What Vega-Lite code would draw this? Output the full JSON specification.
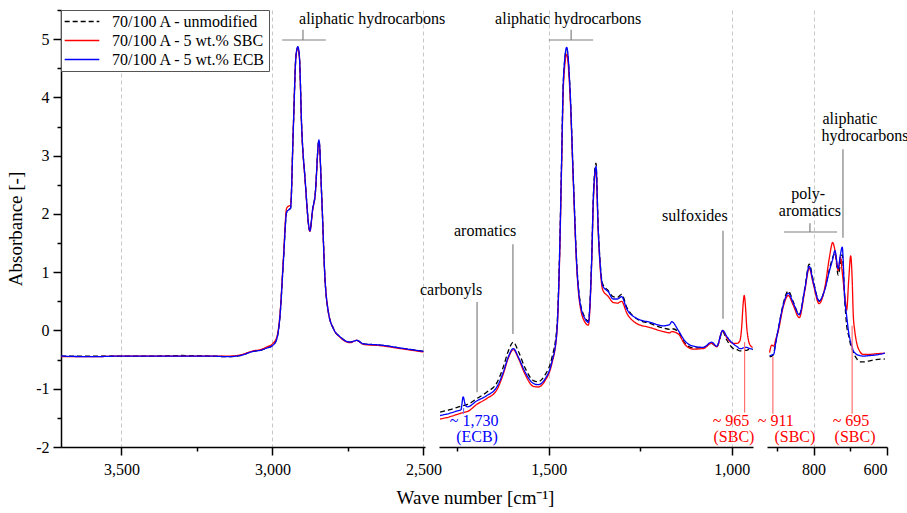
{
"$schema": "https://vega.github.io/schema/vega-lite/v6.json",
"padding": {"left": 6, "top": 9, "right": 0, "bottom": 0},
"spacing": 14,
"bounds": "flush",
"config": {
  "font": "Liberation Serif",
  "view": {"stroke": null},
  "axis": {"labelFont": "Liberation Serif", "labelFontSize": 16, "labelColor": "#000000", "titleFont": "Liberation Serif", "titleFontSize": 19, "titleFontWeight": "normal", "titleColor": "#000000", "domainColor": "#000000", "domainWidth": 1.5, "tickColor": "#000000", "tickWidth": 1.5, "gridColor": "#c8c8c8", "gridDash": [4, 3], "gridWidth": 1},
  "legend": {"orient": "top-left", "offset": 0, "title": null, "symbolType": "stroke", "symbolSize": 1200, "symbolStrokeWidth": 1.3, "labelFontSize": 16, "labelFont": "Liberation Serif", "strokeColor": "#555555", "fillColor": "#ffffff", "padding": 3, "rowPadding": 2, "clipHeight": 17, "labelOffset": 12, "cornerRadius": 0},
  "text": {"font": "Liberation Serif", "fontSize": 16}
},
"resolve": {"scale": {"x": "independent", "y": "independent", "color": "shared", "strokeDash": "shared", "stroke": "shared", "fill": "shared"}},
"datasets": {
  "spec": [
    {"p":1,"x":3700,"u":-0.44,"s":-0.45,"e":-0.44},
    {"p":1,"x":3600,"u":-0.44,"s":-0.45,"e":-0.45},
    {"p":1,"x":3500,"u":-0.44,"s":-0.44,"e":-0.44},
    {"p":1,"x":3400,"u":-0.44,"s":-0.44,"e":-0.44},
    {"p":1,"x":3300,"u":-0.43,"s":-0.44,"e":-0.44},
    {"p":1,"x":3200,"u":-0.44,"s":-0.44,"e":-0.44},
    {"p":1,"x":3150,"u":-0.45,"s":-0.44,"e":-0.45},
    {"p":1,"x":3107,"u":-0.43,"s":-0.42,"e":-0.43},
    {"p":1,"x":3064,"u":-0.36,"s":-0.35,"e":-0.36},
    {"p":1,"x":3040,"u":-0.34,"s":-0.33,"e":-0.34},
    {"p":1,"x":3018,"u":-0.30,"s":-0.28,"e":-0.30},
    {"p":1,"x":3000,"u":-0.26,"s":-0.23,"e":-0.26},
    {"p":1,"x":2986,"u":-0.15,"s":-0.12,"e":-0.15},
    {"p":1,"x":2975,"u":0.25,"s":0.28,"e":0.25},
    {"p":1,"x":2964,"u":1.17,"s":1.22,"e":1.17},
    {"p":1,"x":2953,"u":2.03,"s":2.10,"e":2.03},
    {"p":1,"x":2944,"u":2.08,"s":2.14,"e":2.08},
    {"p":1,"x":2940,"u":2.10,"s":2.15,"e":2.10},
    {"p":1,"x":2931,"u":3.46,"s":3.46,"e":3.46},
    {"p":1,"x":2922,"u":4.72,"s":4.72,"e":4.72},
    {"p":1,"x":2916,"u":4.86,"s":4.84,"e":4.87},
    {"p":1,"x":2911,"u":4.72,"s":4.70,"e":4.72},
    {"p":1,"x":2903,"u":3.46,"s":3.44,"e":3.46},
    {"p":1,"x":2892,"u":2.60,"s":2.58,"e":2.60},
    {"p":1,"x":2876,"u":1.71,"s":1.70,"e":1.71},
    {"p":1,"x":2867,"u":2.08,"s":2.06,"e":2.08},
    {"p":1,"x":2859,"u":2.31,"s":2.30,"e":2.31},
    {"p":1,"x":2846,"u":3.26,"s":3.24,"e":3.27},
    {"p":1,"x":2837,"u":2.31,"s":2.30,"e":2.31},
    {"p":1,"x":2826,"u":0.88,"s":0.88,"e":0.88},
    {"p":1,"x":2815,"u":0.32,"s":0.32,"e":0.32},
    {"p":1,"x":2798,"u":0.03,"s":0.03,"e":0.03},
    {"p":1,"x":2776,"u":-0.11,"s":-0.12,"e":-0.11},
    {"p":1,"x":2743,"u":-0.20,"s":-0.21,"e":-0.20},
    {"p":1,"x":2721,"u":-0.17,"s":-0.17,"e":-0.17},
    {"p":1,"x":2699,"u":-0.23,"s":-0.24,"e":-0.23},
    {"p":1,"x":2644,"u":-0.25,"s":-0.26,"e":-0.25},
    {"p":1,"x":2578,"u":-0.30,"s":-0.31,"e":-0.30},
    {"p":1,"x":2500,"u":-0.36,"s":-0.37,"e":-0.36},
    {"p":2,"x":1797,"u":-1.40,"s":-1.52,"e":-1.46},
    {"p":2,"x":1770,"u":-1.36,"s":-1.48,"e":-1.42},
    {"p":2,"x":1750,"u":-1.32,"s":-1.44,"e":-1.38},
    {"p":2,"x":1740,"u":-1.30,"s":-1.42,"e":-1.36},
    {"p":2,"x":1734,"u":-1.29,"s":-1.41,"e":-1.14},
    {"p":2,"x":1728,"u":-1.28,"s":-1.40,"e":-1.28},
    {"p":2,"x":1722,"u":-1.27,"s":-1.39,"e":-1.31},
    {"p":2,"x":1697,"u":-1.17,"s":-1.27,"e":-1.21},
    {"p":2,"x":1670,"u":-1.06,"s":-1.17,"e":-1.12},
    {"p":2,"x":1642,"u":-0.90,"s":-1.02,"e":-0.97},
    {"p":2,"x":1624,"u":-0.62,"s":-0.74,"e":-0.71},
    {"p":2,"x":1611,"u":-0.36,"s":-0.48,"e":-0.46},
    {"p":2,"x":1597,"u":-0.20,"s":-0.33,"e":-0.31},
    {"p":2,"x":1583,"u":-0.36,"s":-0.48,"e":-0.46},
    {"p":2,"x":1565,"u":-0.64,"s":-0.75,"e":-0.71},
    {"p":2,"x":1542,"u":-0.86,"s":-0.96,"e":-0.91},
    {"p":2,"x":1529,"u":-0.88,"s":-0.97,"e":-0.93},
    {"p":2,"x":1510,"u":-0.76,"s":-0.86,"e":-0.83},
    {"p":2,"x":1492,"u":-0.48,"s":-0.58,"e":-0.55},
    {"p":2,"x":1478,"u":0.05,"s":-0.05,"e":-0.03},
    {"p":2,"x":1471,"u":1.20,"s":1.10,"e":1.17},
    {"p":2,"x":1465,"u":2.92,"s":2.80,"e":2.89},
    {"p":2,"x":1460,"u":4.30,"s":4.20,"e":4.32},
    {"p":2,"x":1451,"u":4.83,"s":4.74,"e":4.86},
    {"p":2,"x":1442,"u":4.14,"s":4.05,"e":4.14},
    {"p":2,"x":1433,"u":2.62,"s":2.55,"e":2.60},
    {"p":2,"x":1424,"u":1.20,"s":1.12,"e":1.17},
    {"p":2,"x":1415,"u":0.52,"s":0.44,"e":0.49},
    {"p":2,"x":1401,"u":0.22,"s":0.14,"e":0.20},
    {"p":2,"x":1392,"u":0.16,"s":0.09,"e":0.14},
    {"p":2,"x":1383,"u":1.20,"s":1.12,"e":1.17},
    {"p":2,"x":1378,"u":2.35,"s":2.25,"e":2.31},
    {"p":2,"x":1371,"u":2.87,"s":2.75,"e":2.81},
    {"p":2,"x":1365,"u":1.78,"s":1.70,"e":1.74},
    {"p":2,"x":1360,"u":1.20,"s":1.12,"e":1.17},
    {"p":2,"x":1353,"u":0.80,"s":0.70,"e":0.77},
    {"p":2,"x":1337,"u":0.68,"s":0.58,"e":0.66},
    {"p":2,"x":1324,"u":0.58,"s":0.48,"e":0.54},
    {"p":2,"x":1312,"u":0.57,"s":0.47,"e":0.54},
    {"p":2,"x":1301,"u":0.62,"s":0.50,"e":0.58},
    {"p":2,"x":1287,"u":0.40,"s":0.30,"e":0.37},
    {"p":2,"x":1260,"u":0.20,"s":0.12,"e":0.21},
    {"p":2,"x":1223,"u":0.12,"s":0.05,"e":0.14},
    {"p":2,"x":1187,"u":0.04,"s":-0.02,"e":0.08},
    {"p":2,"x":1170,"u":0.02,"s":-0.04,"e":0.10},
    {"p":2,"x":1164,"u":0.03,"s":-0.02,"e":0.15},
    {"p":2,"x":1146,"u":-0.02,"s":-0.06,"e":0.00},
    {"p":2,"x":1128,"u":-0.22,"s":-0.24,"e":-0.18},
    {"p":2,"x":1105,"u":-0.30,"s":-0.32,"e":-0.27},
    {"p":2,"x":1078,"u":-0.30,"s":-0.31,"e":-0.29},
    {"p":2,"x":1055,"u":-0.22,"s":-0.22,"e":-0.20},
    {"p":2,"x":1041,"u":-0.28,"s":-0.28,"e":-0.27},
    {"p":2,"x":1025,"u":-0.02,"s":0.00,"e":0.00},
    {"p":2,"x":1014,"u":-0.16,"s":-0.12,"e":-0.10},
    {"p":2,"x":996,"u":-0.31,"s":-0.22,"e":-0.23},
    {"p":2,"x":985,"u":-0.33,"s":-0.22,"e":-0.28},
    {"p":2,"x":978,"u":-0.35,"s":-0.18,"e":-0.31},
    {"p":2,"x":973,"u":-0.35,"s":0.05,"e":-0.31},
    {"p":2,"x":969,"u":-0.35,"s":0.45,"e":-0.30},
    {"p":2,"x":966,"u":-0.35,"s":0.60,"e":-0.30},
    {"p":2,"x":963,"u":-0.34,"s":0.45,"e":-0.29},
    {"p":2,"x":959,"u":-0.34,"s":0.05,"e":-0.29},
    {"p":2,"x":955,"u":-0.33,"s":-0.15,"e":-0.30},
    {"p":2,"x":950,"u":-0.32,"s":-0.25,"e":-0.31},
    {"p":2,"x":943,"u":-0.33,"s":-0.29,"e":-0.32},
    {"p":3,"x":920,"u":-0.45,"s":-0.38,"e":-0.43},
    {"p":3,"x":914,"u":-0.44,"s":-0.25,"e":-0.42},
    {"p":3,"x":909,"u":-0.40,"s":-0.27,"e":-0.41},
    {"p":3,"x":903,"u":-0.20,"s":-0.15,"e":-0.20},
    {"p":3,"x":896,"u":0.03,"s":0.00,"e":0.03},
    {"p":3,"x":883,"u":0.45,"s":0.40,"e":0.43},
    {"p":3,"x":869,"u":0.68,"s":0.60,"e":0.64},
    {"p":3,"x":856,"u":0.50,"s":0.44,"e":0.48},
    {"p":3,"x":839,"u":0.28,"s":0.22,"e":0.27},
    {"p":3,"x":824,"u":0.72,"s":0.68,"e":0.71},
    {"p":3,"x":812,"u":1.14,"s":1.07,"e":1.10},
    {"p":3,"x":801,"u":0.86,"s":0.80,"e":0.83},
    {"p":3,"x":785,"u":0.50,"s":0.46,"e":0.51},
    {"p":3,"x":769,"u":0.72,"s":0.75,"e":0.71},
    {"p":3,"x":757,"u":1.05,"s":1.25,"e":1.02},
    {"p":3,"x":748,"u":1.25,"s":1.51,"e":1.22},
    {"p":3,"x":742,"u":1.33,"s":1.38,"e":1.37},
    {"p":3,"x":733,"u":0.95,"s":1.03,"e":1.06},
    {"p":3,"x":727,"u":1.15,"s":1.26,"e":1.30},
    {"p":3,"x":722,"u":1.30,"s":1.00,"e":1.43},
    {"p":3,"x":715,"u":0.50,"s":0.60,"e":0.54},
    {"p":3,"x":710,"u":0.09,"s":0.35,"e":0.25},
    {"p":3,"x":704,"u":-0.10,"s":0.90,"e":-0.05},
    {"p":3,"x":699,"u":-0.25,"s":1.28,"e":-0.20},
    {"p":3,"x":695,"u":-0.32,"s":0.90,"e":-0.28},
    {"p":3,"x":692,"u":-0.37,"s":0.28,"e":-0.35},
    {"p":3,"x":688,"u":-0.43,"s":0.00,"e":-0.38},
    {"p":3,"x":683,"u":-0.48,"s":-0.20,"e":-0.41},
    {"p":3,"x":674,"u":-0.54,"s":-0.36,"e":-0.43},
    {"p":3,"x":665,"u":-0.54,"s":-0.41,"e":-0.44},
    {"p":3,"x":647,"u":-0.52,"s":-0.41,"e":-0.43},
    {"p":3,"x":630,"u":-0.50,"s":-0.40,"e":-0.42},
    {"p":3,"x":606,"u":-0.49,"s":-0.39,"e":-0.39}
  ],
  "notes": [
    {"p":1,"x":2670,"y":5.35,"t":"aliphatic hydrocarbons","g":"band"},
    {"p":2,"x":1447,"y":5.35,"t":"aliphatic hydrocarbons","g":"band"},
    {"p":2,"x":1767,"y":0.69,"t":"carbonyls","g":"band"},
    {"p":2,"x":1674,"y":1.71,"t":"aromatics","g":"band"},
    {"p":2,"x":1101,"y":1.96,"t":"sulfoxides","g":"band"},
    {"p":2,"x":1704,"y":-1.56,"t":"~ 1,730","g":"ECB"},
    {"p":2,"x":1696,"y":-1.835,"t":"(ECB)","g":"ECB"},
    {"p":2,"x":1002,"y":-1.56,"t":"~ 965","g":"SBC"},
    {"p":2,"x":994,"y":-1.835,"t":"(SBC)","g":"SBC"},
    {"p":3,"x":903,"y":-1.56,"t":"~ 911","g":"SBC"},
    {"p":3,"x":851,"y":-1.835,"t":"(SBC)","g":"SBC"},
    {"p":3,"x":698,"y":-1.56,"t":"~ 695","g":"SBC"},
    {"p":3,"x":687,"y":-1.835,"t":"(SBC)","g":"SBC"},
    {"p":3,"x":815,"y":2.34,"t":"poly-","g":"band"},
    {"p":3,"x":810,"y":2.05,"t":"aromatics","g":"band"},
    {"p":3,"x":701,"y":3.63,"t":"aliphatic","g":"band"},
    {"p":3,"x":660,"y":3.34,"t":"hydrocarbons","g":"band"}
  ],
  "rules": [
    {"p":1,"x":2968,"x2":2823,"y":4.985,"y2":4.985,"g":"band"},
    {"p":1,"x":2899,"x2":2899,"y":4.985,"y2":5.16,"g":"band"},
    {"p":2,"x":1500,"x2":1379,"y":4.985,"y2":4.985,"g":"band"},
    {"p":2,"x":1439,"x2":1439,"y":4.985,"y2":5.16,"g":"band"},
    {"p":2,"x":1696,"x2":1696,"y":0.49,"y2":-1.06,"g":"band"},
    {"p":2,"x":1598,"x2":1598,"y":1.48,"y2":-0.06,"g":"band"},
    {"p":2,"x":1024,"x2":1024,"y":1.71,"y2":0.20,"g":"band"},
    {"p":2,"x":1733,"x2":1733,"y":-1.33,"y2":-1.43,"g":"ECB"},
    {"p":2,"x":965,"x2":965,"y":-0.20,"y2":-1.41,"g":"SBC"},
    {"p":3,"x":881,"x2":736,"y":1.69,"y2":1.69,"g":"band"},
    {"p":3,"x":810,"x2":810,"y":1.69,"y2":1.84,"g":"band"},
    {"p":3,"x":720,"x2":720,"y":3.11,"y2":1.59,"g":"band"},
    {"p":3,"x":911,"x2":911,"y":-0.45,"y2":-1.43,"g":"SBC"},
    {"p":3,"x":695,"x2":695,"y":0.08,"y2":-1.43,"g":"SBC"}
  ]
},
"hconcat": [
  {
    "width": 364, "height": 437,
    "resolve": {"axis": {"x": "independent", "y": "independent"}},
    "layer": [
      {
        "data": {"name": "spec"},
        "transform": [{"filter": "datum.p == 1"}, {"fold": ["u", "s", "e"], "as": ["k", "a"]}],
        "mark": {"type": "line", "strokeWidth": 1.3, "clip": true, "interpolate": "monotone"},
        "encoding": {
          "x": {"field": "x", "type": "quantitative", "scale": {"domain": [2495, 3700], "reverse": true, "nice": false, "zero": false},
                "axis": {"values": [3500, 3000, 2500], "labelExpr": "format(datum.value, ',')", "tickSize": 8, "grid": true, "title": null, "labelPadding": 6}},
          "y": {"field": "a", "type": "quantitative", "scale": {"domain": [-2, 5.5], "nice": false, "zero": false},
                "axis": {"orient": "left", "values": [-2, -1, 0, 1, 2, 3, 4, 5], "labelExpr": "'' + datum.value", "title": "Absorbance [-]", "grid": false, "tickSize": 8, "labelPadding": 4, "titlePadding": 10}},
          "color": {"field": "k", "type": "nominal", "scale": {"domain": ["u", "s", "e"], "range": ["#000000", "#ff0000", "#0000ff"]},
                    "legend": {"labelExpr": "datum.value == 'u' ? '70/100 A - unmodified' : datum.value == 's' ? '70/100 A - 5 wt.% SBC' : '70/100 A - 5 wt.% ECB'"}},
          "strokeDash": {"field": "k", "type": "nominal", "scale": {"domain": ["u", "s", "e"], "range": [[5, 3], [1, 0], [1, 0]]},
                    "legend": {"labelExpr": "datum.value == 'u' ? '70/100 A - unmodified' : datum.value == 's' ? '70/100 A - 5 wt.% SBC' : '70/100 A - 5 wt.% ECB'"}}
        }
      },
      {
        "data": {"name": "rules"},
        "transform": [{"filter": "datum.p == 1"}],
        "mark": {"type": "rule", "strokeWidth": 1.2},
        "encoding": {
          "x": {"field": "x", "type": "quantitative", "scale": {"domain": [2495, 3700], "reverse": true, "nice": false, "zero": false},
                "axis": {"orient": "bottom", "values": [3250, 2750], "labels": false, "domain": false, "grid": false, "tickSize": 4, "title": null}},
          "x2": {"field": "x2"},
          "y": {"field": "y", "type": "quantitative", "scale": {"domain": [-2, 5.5], "nice": false, "zero": false},
                "axis": {"orient": "left", "values": [-1.5, -0.5, 0.5, 1.5, 2.5, 3.5, 4.5, 5.5], "labels": false, "domain": false, "grid": false, "tickSize": 4, "title": null}},
          "y2": {"field": "y2"},
          "stroke": {"field": "g", "type": "nominal", "scale": {"domain": ["band", "SBC", "ECB"], "range": ["#808080", "#ff7070", "#6a6aff"]}, "legend": null}
        }
      },
      {
        "data": {"name": "notes"},
        "transform": [{"filter": "datum.p == 1"}],
        "mark": {"type": "text", "align": "center", "baseline": "middle", "fontSize": 16},
        "encoding": {
          "x": {"field": "x", "type": "quantitative", "scale": {"domain": [2495, 3700], "reverse": true, "nice": false, "zero": false}, "axis": null},
          "y": {"field": "y", "type": "quantitative", "scale": {"domain": [-2, 5.5], "nice": false, "zero": false}, "axis": null},
          "text": {"field": "t"},
          "fill": {"field": "g", "type": "nominal", "scale": {"domain": ["band", "SBC", "ECB"], "range": ["#000000", "#ff0000", "#0000ff"]}, "legend": null}
        }
      },
      {
        "mark": {"type": "text", "text": "/", "fontSize": 20, "align": "center", "baseline": "middle", "color": "#000000"},
        "encoding": {
          "x": {"datum": 2495, "type": "quantitative", "scale": {"domain": [2495, 3700], "reverse": true, "nice": false, "zero": false}, "axis": null},
          "y": {"datum": -2, "type": "quantitative", "scale": {"domain": [-2, 5.5], "nice": false, "zero": false}, "axis": null}
        }
      }
    ]
  },
  {
    "width": 314, "height": 437,
    "resolve": {"axis": {"x": "independent", "y": "independent"}},
    "layer": [
      {
        "data": {"name": "spec"},
        "transform": [{"filter": "datum.p == 2"}, {"fold": ["u", "s", "e"], "as": ["k", "a"]}],
        "mark": {"type": "line", "strokeWidth": 1.3, "clip": true, "interpolate": "monotone"},
        "encoding": {
          "x": {"field": "x", "type": "quantitative", "scale": {"domain": [942, 1800], "reverse": true, "nice": false, "zero": false},
                "axis": {"values": [1500, 1000], "labelExpr": "format(datum.value, ',')", "tickSize": 8, "grid": true, "labelPadding": 6, "title": "Wave number [cm⁻¹]", "titleX": 36, "titleY": 50, "titleBaseline": "middle", "titleFontSize": 19}},
          "y": {"field": "a", "type": "quantitative", "scale": {"domain": [-2, 5.5], "nice": false, "zero": false}, "axis": null},
          "color": {"field": "k", "type": "nominal", "scale": {"domain": ["u", "s", "e"], "range": ["#000000", "#ff0000", "#0000ff"]},
                    "legend": {"labelExpr": "datum.value == 'u' ? '70/100 A - unmodified' : datum.value == 's' ? '70/100 A - 5 wt.% SBC' : '70/100 A - 5 wt.% ECB'"}},
          "strokeDash": {"field": "k", "type": "nominal", "scale": {"domain": ["u", "s", "e"], "range": [[5, 3], [1, 0], [1, 0]]},
                    "legend": {"labelExpr": "datum.value == 'u' ? '70/100 A - unmodified' : datum.value == 's' ? '70/100 A - 5 wt.% SBC' : '70/100 A - 5 wt.% ECB'"}}
        }
      },
      {
        "data": {"name": "rules"},
        "transform": [{"filter": "datum.p == 2"}],
        "mark": {"type": "rule", "strokeWidth": 1.2},
        "encoding": {
          "x": {"field": "x", "type": "quantitative", "scale": {"domain": [942, 1800], "reverse": true, "nice": false, "zero": false},
                "axis": {"orient": "bottom", "values": [1750, 1250], "labels": false, "domain": false, "grid": false, "tickSize": 4, "title": null}},
          "x2": {"field": "x2"},
          "y": {"field": "y", "type": "quantitative", "scale": {"domain": [-2, 5.5], "nice": false, "zero": false}, "axis": null},
          "y2": {"field": "y2"},
          "stroke": {"field": "g", "type": "nominal", "scale": {"domain": ["band", "SBC", "ECB"], "range": ["#808080", "#ff7070", "#6a6aff"]}, "legend": null}
        }
      },
      {
        "data": {"name": "notes"},
        "transform": [{"filter": "datum.p == 2"}],
        "mark": {"type": "text", "align": "center", "baseline": "middle", "fontSize": 16},
        "encoding": {
          "x": {"field": "x", "type": "quantitative", "scale": {"domain": [942, 1800], "reverse": true, "nice": false, "zero": false}, "axis": null},
          "y": {"field": "y", "type": "quantitative", "scale": {"domain": [-2, 5.5], "nice": false, "zero": false}, "axis": null},
          "text": {"field": "t"},
          "fill": {"field": "g", "type": "nominal", "scale": {"domain": ["band", "SBC", "ECB"], "range": ["#000000", "#ff0000", "#0000ff"]}, "legend": null}
        }
      },
      {
        "mark": {"type": "text", "text": "/", "fontSize": 20, "align": "center", "baseline": "middle", "color": "#000000"},
        "encoding": {
          "x": {"datum": 1800, "type": "quantitative", "scale": {"domain": [942, 1800], "reverse": true, "nice": false, "zero": false}, "axis": null},
          "y": {"datum": -2, "type": "quantitative", "scale": {"domain": [-2, 5.5], "nice": false, "zero": false}, "axis": null}
        }
      },
      {
        "mark": {"type": "text", "text": "/", "fontSize": 20, "align": "center", "baseline": "middle", "color": "#000000"},
        "encoding": {
          "x": {"datum": 942, "type": "quantitative", "scale": {"domain": [942, 1800], "reverse": true, "nice": false, "zero": false}, "axis": null},
          "y": {"datum": -2, "type": "quantitative", "scale": {"domain": [-2, 5.5], "nice": false, "zero": false}, "axis": null}
        }
      }
    ]
  },
  {
    "width": 120, "height": 437,
    "resolve": {"axis": {"x": "independent", "y": "independent"}},
    "layer": [
      {
        "data": {"name": "spec"},
        "transform": [{"filter": "datum.p == 3"}, {"fold": ["u", "s", "e"], "as": ["k", "a"]}],
        "mark": {"type": "line", "strokeWidth": 1.3, "clip": true, "interpolate": "monotone"},
        "encoding": {
          "x": {"field": "x", "type": "quantitative", "scale": {"domain": [600, 927], "reverse": true, "nice": false, "zero": false},
                "axis": {"values": [800, 600], "tickSize": 8, "grid": true, "gridOpacity": {"condition": {"test": "datum.value == 600", "value": 0}, "value": 1}, "labelPadding": 6, "title": null}},
          "y": {"field": "a", "type": "quantitative", "scale": {"domain": [-2, 5.5], "nice": false, "zero": false}, "axis": null},
          "color": {"field": "k", "type": "nominal", "scale": {"domain": ["u", "s", "e"], "range": ["#000000", "#ff0000", "#0000ff"]},
                    "legend": {"labelExpr": "datum.value == 'u' ? '70/100 A - unmodified' : datum.value == 's' ? '70/100 A - 5 wt.% SBC' : '70/100 A - 5 wt.% ECB'"}},
          "strokeDash": {"field": "k", "type": "nominal", "scale": {"domain": ["u", "s", "e"], "range": [[5, 3], [1, 0], [1, 0]]},
                    "legend": {"labelExpr": "datum.value == 'u' ? '70/100 A - unmodified' : datum.value == 's' ? '70/100 A - 5 wt.% SBC' : '70/100 A - 5 wt.% ECB'"}}
        }
      },
      {
        "data": {"name": "rules"},
        "transform": [{"filter": "datum.p == 3"}],
        "mark": {"type": "rule", "strokeWidth": 1.2},
        "encoding": {
          "x": {"field": "x", "type": "quantitative", "scale": {"domain": [600, 927], "reverse": true, "nice": false, "zero": false},
                "axis": {"orient": "bottom", "values": [900, 700], "labels": false, "domain": false, "grid": false, "tickSize": 4, "title": null}},
          "x2": {"field": "x2"},
          "y": {"field": "y", "type": "quantitative", "scale": {"domain": [-2, 5.5], "nice": false, "zero": false}, "axis": null},
          "y2": {"field": "y2"},
          "stroke": {"field": "g", "type": "nominal", "scale": {"domain": ["band", "SBC", "ECB"], "range": ["#808080", "#ff7070", "#6a6aff"]}, "legend": null}
        }
      },
      {
        "data": {"name": "notes"},
        "transform": [{"filter": "datum.p == 3"}],
        "mark": {"type": "text", "align": "center", "baseline": "middle", "fontSize": 16},
        "encoding": {
          "x": {"field": "x", "type": "quantitative", "scale": {"domain": [600, 927], "reverse": true, "nice": false, "zero": false}, "axis": null},
          "y": {"field": "y", "type": "quantitative", "scale": {"domain": [-2, 5.5], "nice": false, "zero": false}, "axis": null},
          "text": {"field": "t"},
          "fill": {"field": "g", "type": "nominal", "scale": {"domain": ["band", "SBC", "ECB"], "range": ["#000000", "#ff0000", "#0000ff"]}, "legend": null}
        }
      },
      {
        "mark": {"type": "text", "text": "/", "fontSize": 20, "align": "center", "baseline": "middle", "color": "#000000"},
        "encoding": {
          "x": {"datum": 927, "type": "quantitative", "scale": {"domain": [600, 927], "reverse": true, "nice": false, "zero": false}, "axis": null},
          "y": {"datum": -2, "type": "quantitative", "scale": {"domain": [-2, 5.5], "nice": false, "zero": false}, "axis": null}
        }
      }
    ]
  }
]
}
